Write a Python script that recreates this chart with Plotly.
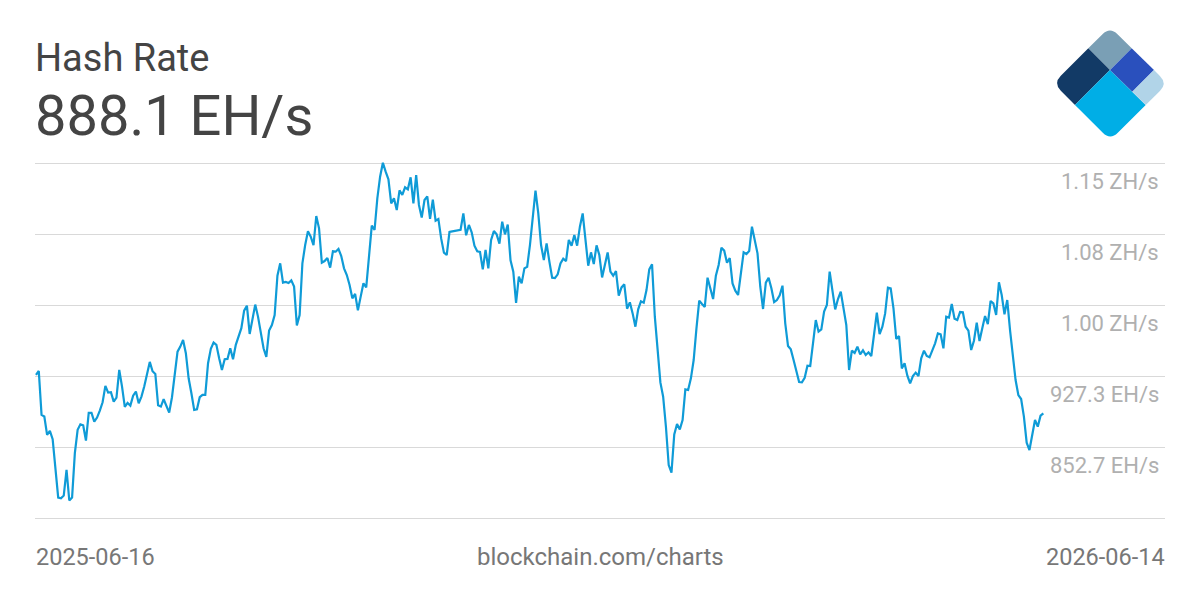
import pandas as pd
import plotly.graph_objects as go

title = "Hash Rate"
current_value = "888.1 EH/s"
source = "blockchain.com/charts"
start_label = "2025-06-16"
end_label = "2026-06-14"

tick_values = [778.1, 852.7, 927.3, 1001.9, 1076.5, 1151.1]
tick_labels = ["", "852.7 EH/s", "927.3 EH/s", "1.00 ZH/s", "1.08 ZH/s", "1.15 ZH/s"]

hash_rate_a = [
    928.4, 932.6, 886.4, 884.7, 865.4, 869.6, 860.9, 832.2, 799.6, 798.9, 801.7, 828.7, 796.5, 799.6, 846.2,
    870.7, 876.6, 875.6, 859.5, 888.5, 888.5, 879.4, 883.6, 891.0, 899.7, 916.9, 909.9, 910.2, 900.4, 904.6,
    933.7, 916.2, 894.8, 899.0, 896.2, 906.7, 910.9, 898.7, 905.7, 916.2, 930.2, 942.1, 932.3, 929.5, 896.6,
    895.2, 902.9, 896.2, 888.9, 905.0, 926.7, 952.9, 958.2, 965.2, 951.2, 924.9, 909.2, 891.7, 892.4, 905.0,
    907.5, 907.5, 940.7, 955.8, 962.4, 960.0, 946.0, 933.7, 944.9, 945.2, 956.5, 944.9, 960.0, 968.7, 977.5,
    996.0, 1001.2, 971.5, 988.0, 1002.3, 989.7, 972.2, 956.5, 947.3, 975.0, 980.9, 991.4,
]
hash_rate_b = [
    1032.7, 1045.7, 1025.4, 1026.1, 1025.0, 1027.8, 1021.2, 980.5, 991.4, 1045.7, 1064.9, 1079.3, 1073.7,
    1064.9, 1095.4, 1082.4, 1046.4, 1048.1, 1051.3, 1041.1, 1058.3, 1057.9, 1060.7, 1053.4, 1040.4, 1033.4,
    1022.9, 1008.9, 1013.5, 996.3, 1010.7, 1024.7, 1020.5, 1050.9, 1085.3, 1080.7, 1114.0, 1136.7, 1151.4,
    1142.0, 1133.9, 1108.7, 1114.0, 1101.7, 1122.4, 1117.5, 1125.5, 1123.4, 1136.0, 1108.7, 1138.5, 1107.0,
    1093.7, 1112.2, 1116.1, 1092.3, 1112.6, 1090.5, 1092.3, 1071.9, 1056.9, 1054.4, 1078.6, 1079.3, 1080.0,
    1080.3, 1081.0, 1098.2, 1075.1, 1086.0, 1078.2, 1064.2, 1058.3, 1057.6, 1039.4, 1059.7, 1040.4, 1070.2,
    1079.6, 1076.1, 1066.3, 1089.5, 1076.1, 1086.3, 1048.8, 1036.9, 1004.0, 1031.7,
]
hash_rate_c = [
    1024.6, 1040.4, 1042.1, 1064.9, 1094.7, 1122.0, 1098.2, 1064.9, 1049.1, 1066.7, 1047.4, 1030.6, 1030.2,
    1034.1, 1045.6, 1050.5, 1048.1, 1070.2, 1064.2, 1075.4, 1064.2, 1084.2, 1098.2, 1070.2, 1043.2, 1057.2,
    1044.9, 1064.6, 1054.4, 1030.9, 1043.9, 1057.2, 1036.9, 1032.7, 1037.6, 1011.7, 1020.4, 1023.6, 998.0,
    1004.7, 993.1, 979.1, 997.3, 1005.7, 1004.3, 1017.6, 1039.3, 1044.6, 989.6, 954.6, 920.6, 905.5, 874.0,
    833.7, 825.7, 866.0, 876.8, 871.2, 881.0, 913.3, 912.6, 924.8, 944.1, 977.3, 1006.4, 1002.9, 999.8,
    1030.6, 1019.4, 1008.2, 1032.7, 1043.9, 1062.1, 1059.0, 1046.3, 1051.2, 1024.6, 1016.9, 1012.4, 1033.4,
    1057.2, 1055.5, 1058.6, 1084.2, 1070.2, 1056.2, 1021.1,
]
hash_rate_d = [
    997.7, 1025.4, 1030.6, 1019.4, 1005.0, 1007.1, 1012.0, 1022.2, 982.6, 958.8, 955.3, 944.1, 931.8, 921.0,
    920.6, 925.5, 938.1, 937.8, 961.6, 986.1, 973.9, 976.3, 994.9, 1001.9, 1036.9, 1017.7, 997.3, 1008.2,
    1015.9, 998.4, 980.9, 933.6, 953.9, 951.5, 958.1, 950.1, 954.3, 949.4, 952.2, 948.3, 968.6, 993.8, 971.4,
    979.1, 993.1, 1020.1, 1019.4, 998.4, 966.2, 969.3, 935.3, 940.6, 927.6, 919.6, 927.3, 930.8, 927.3, 945.9,
    953.9, 948.3, 946.9, 953.9, 961.6, 972.1, 971.1, 956.4, 989.6, 988.6, 1002.9, 987.5, 986.1, 994.5, 994.2,
    979.1, 974.9, 954.6, 964.4, 983.3, 964.0, 977.4, 990.3, 981.9, 1006.1, 1003.6, 991.4, 1025.7, 1012.4,
    992.1, 1007.1, 975.6, 951.1, 923.1, 907.3, 903.1, 884.6, 857.2, 849.5, 863.5, 881.1, 874.1, 885.6, 888.1,
]
hash_rate = hash_rate_a + hash_rate_b + hash_rate_c + hash_rate_d
dates = pd.date_range(start_label, periods=len(hash_rate), freq="D")

# The page adds an 8px body margin, so the figure is sized to end at the window edge.
PAGE = 8
W, H = 1200 - PAGE, 600 - PAGE
L, R, T, B = 35, 1165, 161, 520
font_family = "Roboto, Arial, sans-serif"
px_per_day = 2.775
eh_per_px = (tick_values[-1] - tick_values[0]) / 355
x_start = dates[0] - pd.Timedelta(days=(36 - L) / px_per_day)
x_end = dates[0] + pd.Timedelta(days=(R - 36) / px_per_day)
y_range = [tick_values[0] - 2 * eh_per_px, tick_values[-1] + 2 * eh_per_px]


def px(x):
    return (x - L) / (R - L)


def py(y):
    return (B - y) / (B - T)


def path(cmds):
    out = []
    for c in cmds:
        op, coords = c[0], c[1:]
        pts = " ".join(f"{px(coords[i]):.5f},{py(coords[i + 1]):.5f}" for i in range(0, len(coords), 2))
        out.append(f"{op} {pts}")
    return " ".join(out) + " Z"


logo = [
    ("#7a9fb5", [("M", 1088.3, 48.3), ("L", 1102.5, 34.2), ("Q", 1110, 26.7, 1117.5, 34.2), ("L", 1131.7, 48.3), ("L", 1110, 70)]),
    ("#123a66", [("M", 1088.3, 48.3), ("L", 1060.8, 75.8), ("Q", 1053.3, 83.3, 1060.8, 90.8), ("L", 1075, 105), ("L", 1110, 70)]),
    ("#00aee6", [("M", 1110, 70), ("L", 1075, 105), ("L", 1102.8, 132.8), ("Q", 1110.3, 140.3, 1117.8, 132.8), ("L", 1145.7, 105)]),
    ("#2a50bd", [("M", 1131.7, 48.3), ("L", 1154, 70), ("L", 1132.3, 91.7), ("L", 1110, 70)]),
    ("#b1d4e8", [("M", 1154, 70), ("L", 1159.9, 75.9), ("Q", 1167.4, 83.4, 1159.9, 90.9), ("L", 1145.7, 105), ("L", 1132.3, 91.7)]),
]
shapes = [
    dict(type="path", xref="paper", yref="paper", path=path(cmds), fillcolor=color, line=dict(width=0), layer="above")
    for color, cmds in logo
]


def text(x, y, s, size, color, anchor):
    return dict(xref="paper", yref="paper", x=px(x), y=py(y), text=s, showarrow=False, xanchor=anchor,
                yanchor="middle", font=dict(family=font_family, size=size, color=color), xshift=0, yshift=0)


annotations = [
    text(33, 58, title, 38, "#444444", "left"),
    text(33, 116, current_value, 56, "#444444", "left"),
    text(34, 557, start_label, 23.5, "#777777", "left"),
    text(600, 557, source, 24, "#777777", "center"),
    text(1167, 557, end_label, 23.5, "#777777", "right"),
]
for v, lab in zip(tick_values, tick_labels):
    if lab:
        annotations.append(dict(xref="paper", yref="y", x=px(1161), y=v, text=lab, showarrow=False, xanchor="right",
                                yanchor="middle", yshift=-18.5,
                                font=dict(family=font_family, size=22, color="#b0b0b0")))

fig = go.Figure(go.Scatter(x=dates, y=hash_rate, mode="lines", line=dict(color="#0f9bd7", width=2.2),
                           hoverinfo="skip", cliponaxis=False))
fig.update_layout(
    width=W, height=H, autosize=False,
    margin=dict(l=L - PAGE, r=W + PAGE - R, t=T - PAGE, b=H + PAGE - B, pad=0),
    paper_bgcolor="white", plot_bgcolor="white", showlegend=False,
    shapes=shapes, annotations=annotations,
    xaxis=dict(range=[x_start, x_end], showgrid=False, zeroline=False, showticklabels=False, ticks="", showline=False),
    yaxis=dict(range=y_range, tickvals=tick_values, showticklabels=False, ticks="",
               showgrid=True, gridcolor="#d9d9d9", gridwidth=1, zeroline=False, showline=False),
)
fig.write_html("out.html", config={"displayModeBar": False})
